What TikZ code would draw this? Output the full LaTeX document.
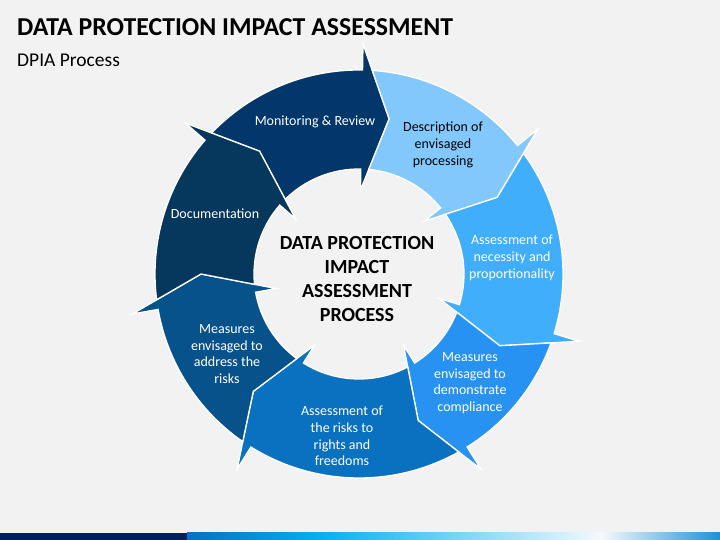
\documentclass[tikz,border=0pt]{standalone}
\usepackage{fontspec}
\setmainfont{Carlito}
\usetikzlibrary{calc}
\definecolor{latar}{HTML}{F2F2F2}
\definecolor{wmon}{HTML}{03366A}
\definecolor{wdesc}{HTML}{82C8FC}
\definecolor{wnec}{HTML}{40AEFA}
\definecolor{wdemo}{HTML}{2892F2}
\definecolor{wrisk}{HTML}{0A70C0}
\definecolor{waddr}{HTML}{08528C}
\definecolor{wdoc}{HTML}{06375C}
\definecolor{wnavy}{HTML}{002060}
\newcommand{\panah}[3]{%
  \filldraw[fill=#1,draw=white,line width=1.3pt]
    (#2-2.75:204) arc[start angle=#2-2.75,end angle=#3,radius=204]
    -- (#3:230) -- (#3-10:158) -- (#3:84) -- (#3:105)
    arc[start angle=#3,end angle=#2-4.35,radius=105]
    -- (#2-10:158) -- cycle;}

\begin{document}
\begin{tikzpicture}[x=1pt,y=1pt,
  teks/.style={text=white,align=center,font=\fontsize{14}{16.7}\selectfont}]
  \fill[latar] (0,0) rectangle (720,540);
  \useasboundingbox (0,0) rectangle (720,540);
  \coordinate (O) at (359,266);

  % cycle of arrows
  \begin{scope}[shift={(O)}]
    \panah{wmon}{139}{89}
    \panah{wdesc}{89}{39}
    \panah{wnec}{39}{-17}
    \panah{wdemo}{-17}{-58}
    \panah{wrisk}{-58}{-122}
    \panah{waddr}{-122}{-170}
    \panah{wdoc}{-170}{-221}
  \end{scope}

  \node[teks] (mon)  at (315,418) {Monitoring \& Review};
  \node[teks,text=black] (desc) at (443,395) {Description of\\envisaged\\processing};
  \node[teks] (nec)  at (512,282) {Assessment of\\necessity and\\proportionality};
  \node[teks] (demo) at (470,157) {Measures\\envisaged to\\demonstrate\\compliance};
  \node[teks] (risk) at (342,104) {Assessment of\\the risks to\\rights and\\freedoms};
  \node[teks] (addr) at (227,186) {Measures\\envisaged to\\address the\\risks};
  \node[teks] (doc)  at (215,326) {Documentation};
  \node[align=center,font=\fontsize{20}{24}\selectfont\bfseries] (pusat) at (357,261)
    {DATA PROTECTION\\IMPACT\\ASSESSMENT\\PROCESS};

  % title
  \node[anchor=base west,inner sep=0pt,font=\fontsize{25.8}{30}\selectfont\bfseries] (judul) at (17,504)
    {DATA PROTECTION IMPACT ASSESSMENT};
  \node[anchor=base west,inner sep=0pt,font=\fontsize{19.5}{23}\selectfont] (sub) at (17,473.5)
    {DPIA Process};

  % bottom bar
  \fill[wnavy] (0,0) rectangle (187,7);
  \shade[left color=wrisk,right color={rgb,255:red,0;green,176;blue,240}] (187,0) rectangle (318,7);
  \shade[left color={rgb,255:red,0;green,176;blue,240},right color={rgb,255:red,245;green,250;blue,253}] (317,0) rectangle (602,7);
  \shade[left color={rgb,255:red,245;green,250;blue,253},right color={rgb,255:red,30;green,144;blue,214}] (601,0) rectangle (720,7);
\end{tikzpicture}
\end{document}
